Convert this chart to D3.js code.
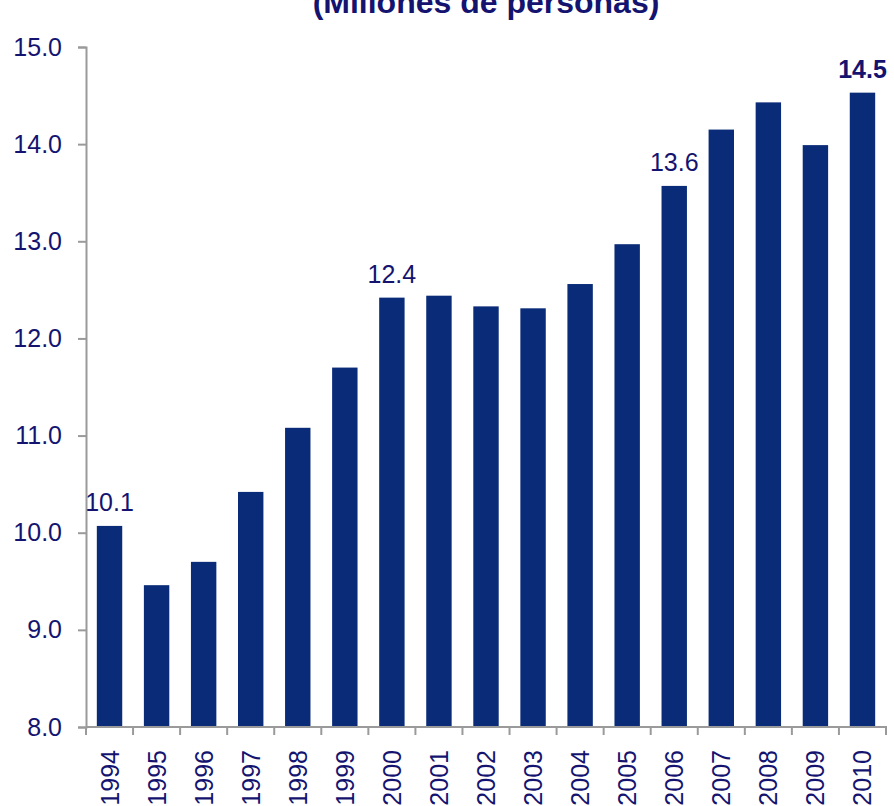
<!DOCTYPE html>
<html>
<head>
<meta charset="utf-8">
<script src="https://cdn.jsdelivr.net/npm/d3@7"></script>
<style>
body { margin: 0; background: #fff; }
svg { display: block; }
</style>
</head>
<body>
<svg id="chart"></svg>
<script>
// datos
let years = ['1994','1995','1996','1997','1998','1999','2000','2001','2002','2003','2004','2005','2006','2007','2008','2009','2010']
let values = [10.07, 9.46, 9.70, 10.42, 11.08, 11.70, 12.42, 12.44, 12.33, 12.31, 12.56, 12.97, 13.57, 14.15, 14.43, 13.99, 14.53]
let yTicks = [8, 9, 10, 11, 12, 13, 14, 15]
let labeled = {'1994': '10.1', '2000': '12.4', '2006': '13.6', '2010': '14.5'}
let title = '(Millones de personas)'

let W = 894, H = 806
let barColor = '#0a2c78'
let txtColor = '#141470'
let axisColor = '#9a9a9a'
let font = 'Arial, "Liberation Sans", sans-serif'

let svg = d3.select('#chart').attr('width', W).attr('height', H)

let x = d3.scaleBand().domain(years).range([86, 886]).padding(0)
let y = d3.scaleLinear().domain([8, 15]).range([727, 47])

// titulo (cortado arriba, como en el original)
svg.append('text')
	.attr('x', 486).attr('y', 13)
	.attr('text-anchor', 'middle')
	.attr('font-family', font).attr('font-weight', 'bold').attr('font-size', '32px')
	.attr('fill', txtColor)
	.text(title)

// barras
let bw = x.bandwidth() * 0.54
svg.append('g').selectAll('rect').data(years)
	.enter().append('rect')
	.attr('x', (d) => x(d) + (x.bandwidth() - bw) / 2)
	.attr('width', bw)
	.attr('y', (d, i) => y(values[i]))
	.attr('height', (d, i) => y(8) - y(values[i]))
	.attr('fill', barColor)

// eje y
let yAxis = svg.append('g').attr('transform', 'translate(86,0)')
	.call(d3.axisLeft(y).tickValues(yTicks).tickFormat(d3.format('.1f')).tickSize(8).tickPadding(16))
yAxis.select('.domain').attr('stroke', axisColor).attr('stroke-width', 2)
yAxis.selectAll('.tick line').attr('stroke', axisColor).attr('stroke-width', 2)
yAxis.selectAll('text')
	.attr('font-family', font).attr('font-size', '25px').attr('fill', txtColor)

// eje x
let xAxis = svg.append('g').attr('class', 'xaxis')
xAxis.append('line')
	.attr('x1', 86).attr('x2', 887).attr('y1', y(8)).attr('y2', y(8))
	.attr('stroke', axisColor).attr('stroke-width', 2)
let bounds = years.map(d => x(d)).concat([x.range()[1]])
xAxis.selectAll('line.tk').data(bounds)
	.enter().append('line').attr('class', 'tk')
	.attr('x1', d => d).attr('x2', d => d)
	.attr('y1', y(8)).attr('y2', y(8) + 8)
	.attr('stroke', axisColor).attr('stroke-width', 2)
xAxis.selectAll('text').data(years)
	.enter().append('text')
	.attr('transform', d => `translate(${x(d) + x.bandwidth() / 2 + 9}, 750) rotate(-90)`)
	.attr('text-anchor', 'end')
	.attr('font-family', font).attr('font-size', '25px').attr('fill', txtColor)
	.text(d => d)

// etiquetas de valores
svg.append('g').selectAll('text').data(years.filter(d => labeled[d]))
	.enter().append('text')
	.attr('x', d => x(d) + x.bandwidth() / 2)
	.attr('y', d => y(values[years.indexOf(d)]) - 15)
	.attr('text-anchor', 'middle')
	.attr('font-family', font).attr('font-size', '25px')
	.attr('font-weight', d => d == '2010' ? 'bold' : 'normal')
	.attr('fill', txtColor)
	.text(d => labeled[d])
</script>
</body>
</html>
